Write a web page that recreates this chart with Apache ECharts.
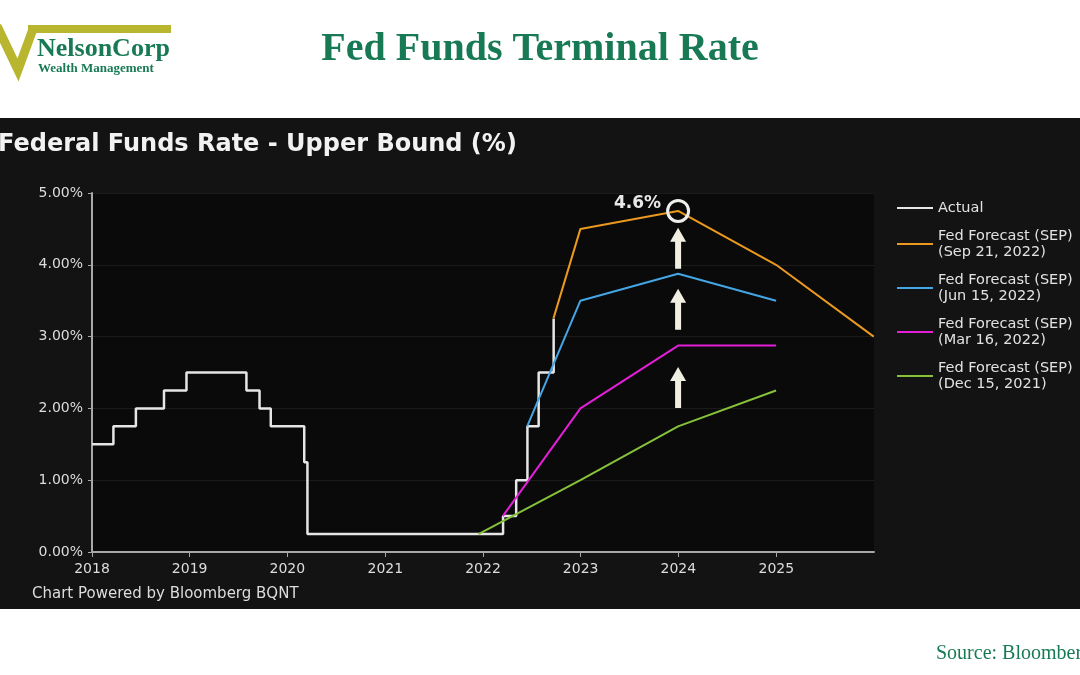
<!DOCTYPE html>
<html>
<head>
<meta charset="utf-8">
<title>Fed Funds Terminal Rate</title>
<script src="https://cdn.jsdelivr.net/npm/echarts@6/dist/echarts.min.js"></script>
<style>
    html, body { margin: 0; padding: 0; background: #fff; }
    #chart { width: 1080px; height: 675px; }
</style>
</head>
<body>
<div id="chart"></div>
<script>
// Fed funds upper bound, value holds from each date on
var actualDates = ['2018-01-01', '2018-03-22', '2018-06-14', '2018-09-27', '2018-12-20', '2019-08-01',
    '2019-09-19', '2019-10-31', '2020-03-04', '2020-03-16', '2022-03-17', '2022-05-05',
    '2022-06-16', '2022-07-28', '2022-09-22'];
var actualValues = [1.5, 1.75, 2.0, 2.25, 2.5, 2.25, 2.0, 1.75, 1.25, 0.25, 0.5, 1.0, 1.75, 2.5, 3.25];

// SEP medians (upper bound), year end points
var sepSepDates = ['2022-09-21', '2022-12-31', '2023-12-31', '2024-12-31', '2025-12-31'];
var sepSepValues = [3.25, 4.5, 4.75, 4.0, 3.0];
var sepJunDates = ['2022-06-15', '2022-12-31', '2023-12-31', '2024-12-31'];
var sepJunValues = [1.75, 3.5, 3.875, 3.5];
var sepMarDates = ['2022-03-16', '2022-12-31', '2023-12-31', '2024-12-31'];
var sepMarValues = [0.5, 2.0, 2.875, 2.875];
var sepDecDates = ['2021-12-15', '2022-12-31', '2023-12-31', '2024-12-31'];
var sepDecValues = [0.25, 1.0, 1.75, 2.25];

// annotation: terminal rate circle and the three arrows
var peakDate = '2023-12-31';
var peakValue = 4.75;
var peakLabel = '4.6%';
var arrowValues = [4.23, 3.38, 2.29];

var seriesNames = ['Actual', 'Fed Forecast (SEP)\n(Sep 21, 2022)', 'Fed Forecast (SEP)\n(Jun 15, 2022)',
    'Fed Forecast (SEP)\n(Mar 16, 2022)', 'Fed Forecast (SEP)\n(Dec 15, 2021)'];
var colors = ['#e6e6e6', '#ec9a1f', '#45a6e6', '#e41fd8', '#86c23a'];

function pairs(dates, values) {
    return dates.map(function (d, i) { return [d, values[i]]; });
}

var chartFont = '"DejaVu Sans", "Noto Sans", sans-serif';
var green = '#187a55';
var arrowPath = 'path://M8,0 L16,14 L11,14 L11,41 L5,41 L5,14 L0,14 Z';

var myChart = echarts.init(document.getElementById('chart'));
var option = {
    backgroundColor: '#ffffff',
    textStyle: { fontFamily: chartFont },
    animation: false,
    graphic: [
        // dark panel behind the chart
        { type: 'rect', z: -10, shape: { x: 0, y: 118, width: 1080, height: 491 }, style: { fill: '#131313' } },
        // logo
        { type: 'rect', shape: { x: 28, y: 25, width: 143, height: 8 }, style: { fill: '#b8b52e' } },
        { type: 'polyline', shape: { points: [[-3, 26], [18, 70], [33, 29]] },
            style: { stroke: '#b8b52e', lineWidth: 9, fill: null } },
        { type: 'text', left: 37, top: 36, style: { text: 'NelsonCorp', fill: green,
            font: 'bold 26px "Liberation Serif", serif' } },
        { type: 'text', left: 38, top: 62, style: { text: 'Wealth Management', fill: green,
            font: 'bold 13px "Liberation Serif", serif' } },
        // page title
        { type: 'text', left: 'center', top: 30, style: { text: 'Fed Funds Terminal Rate', fill: green,
            font: 'bold 40px "Liberation Serif", serif' } },
        // chart title inside panel
        { type: 'text', left: -2, top: 133, style: { text: 'Federal Funds Rate - Upper Bound (%)', fill: '#f2f2f2',
            font: 'bold 24px ' + chartFont } },
        { type: 'text', left: 32, top: 587, style: { text: 'Chart Powered by Bloomberg BQNT', fill: '#dddddd',
            font: '15px ' + chartFont } },
        // source
        { type: 'text', left: 936, top: 644, style: { text: 'Source: Bloomberg', fill: green,
            font: '20px "Liberation Serif", serif' } }
    ],
    grid: {
        left: 92,
        right: 206,
        top: 193,
        bottom: 123,
        show: true,
        backgroundColor: '#0a0a0a',
        borderWidth: 0
    },
    legend: {
        orient: 'vertical',
        left: 897,
        top: 200,
        padding: 0,
        itemWidth: 36,
        itemHeight: 2,
        itemGap: 12,
        icon: 'rect',
        data: seriesNames,
        textStyle: { color: '#e2e2e2', fontSize: 14.5, lineHeight: 16, fontFamily: chartFont }
    },
    xAxis: {
        type: 'time',
        min: '2018-01-01',
        max: '2026-01-01',
        splitNumber: 8,
        minInterval: 365 * 24 * 3600 * 1000,
        axisLine: { lineStyle: { color: '#a8a8a8', width: 2 } },
        axisTick: { show: true, length: 5, lineStyle: { color: '#a8a8a8' } },
        splitLine: { show: false },
        axisLabel: {
            color: '#dddddd',
            fontSize: 14,
            margin: 10,
            formatter: function (val) {
                var y = new Date(val).getFullYear();
                return y >= 2026 ? '' : String(y);
            }
        }
    },
    yAxis: {
        type: 'value',
        min: 0,
        max: 5,
        interval: 1,
        axisLine: { show: true, lineStyle: { color: '#a8a8a8', width: 2 } },
        axisTick: { show: true, length: 4, lineStyle: { color: '#a8a8a8' } },
        splitLine: { show: true, lineStyle: { color: '#1b1b1b', width: 1 } },
        axisLabel: {
            color: '#dddddd',
            fontSize: 14,
            margin: 9,
            formatter: function (v) { return v.toFixed(2) + '%'; }
        }
    },
    series: [
        {
            name: seriesNames[0], type: 'line', step: 'end', showSymbol: false,
            data: pairs(actualDates, actualValues),
            lineStyle: { color: colors[0], width: 2.5 }, itemStyle: { color: colors[0] }, z: 3
        },
        {
            name: seriesNames[1], type: 'line', showSymbol: false,
            data: pairs(sepSepDates, sepSepValues),
            lineStyle: { color: colors[1], width: 2 }, itemStyle: { color: colors[1] }, z: 4,
            markPoint: {
                silent: true,
                data: [
                    {
                        coord: [peakDate, peakValue], symbol: 'circle', symbolSize: 21,
                        itemStyle: { color: 'rgba(0,0,0,0)', borderColor: '#eeeeea', borderWidth: 3 },
                        label: { show: true, position: 'left', distance: 5, offset: [0, -7], formatter: peakLabel,
                            color: '#e8e8e8', fontSize: 17, fontWeight: 'bold', fontFamily: chartFont }
                    }
                ].concat(arrowValues.map(function (v) {
                    return {
                        coord: [peakDate, v], symbol: arrowPath, symbolSize: [16, 41],
                        itemStyle: { color: '#f1efe2' }, label: { show: false }
                    };
                }))
            }
        },
        {
            name: seriesNames[2], type: 'line', showSymbol: false,
            data: pairs(sepJunDates, sepJunValues),
            lineStyle: { color: colors[2], width: 2 }, itemStyle: { color: colors[2] }, z: 4
        },
        {
            name: seriesNames[3], type: 'line', showSymbol: false,
            data: pairs(sepMarDates, sepMarValues),
            lineStyle: { color: colors[3], width: 2 }, itemStyle: { color: colors[3] }, z: 4
        },
        {
            name: seriesNames[4], type: 'line', showSymbol: false,
            data: pairs(sepDecDates, sepDecValues),
            lineStyle: { color: colors[4], width: 2 }, itemStyle: { color: colors[4] }, z: 4
        }
    ]
};
myChart.setOption(option);
</script>
</body>
</html>
